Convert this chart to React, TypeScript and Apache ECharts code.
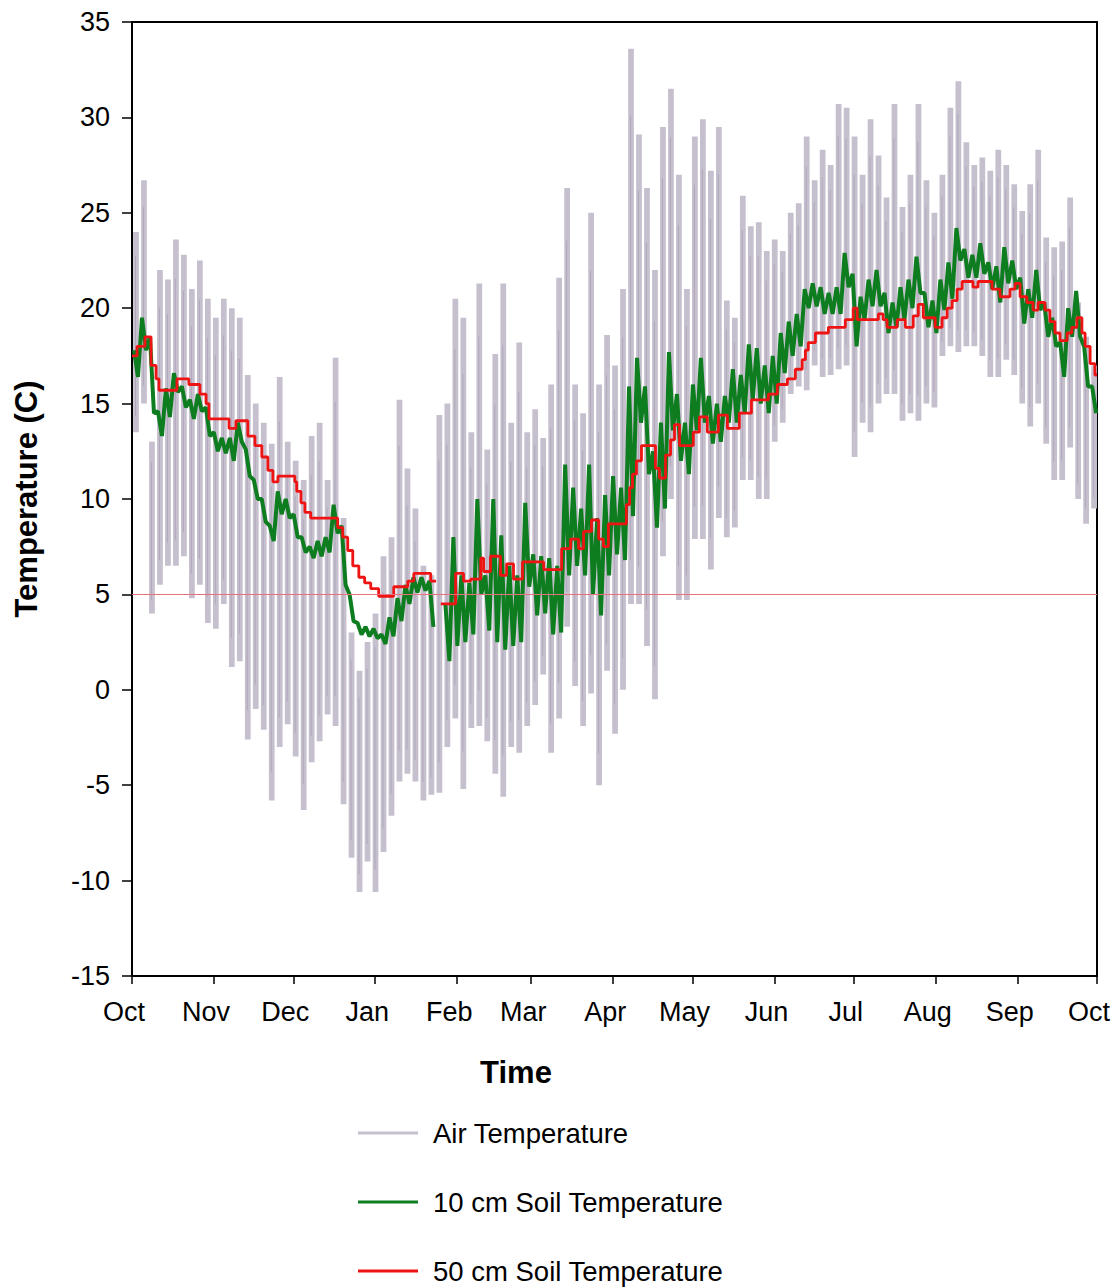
import React, { useEffect, useRef } from "react";
import * as echarts from "echarts";

// ---------- data ----------
const MONTHS = ["Jan", "Feb", "Mar", "Apr", "May", "Jun", "Jul", "Aug", "Sep", "Oct", "Nov", "Dec"];
const SERIES_NAMES = ["Air Temperature", "10 cm Soil Temperature", "50 cm Soil Temperature"];
const Y_MIN = -15;
const Y_MAX = 35;
const Y_STEP = 5;
const THRESHOLD = 5;

// Air temperature: highest / lowest reading in each ~3-day bin starting Oct 1
const AIR_HIGH = [
  24, 26.7, 13, 22, 21.5, 23.6, 22.8, 21, 22.5, 20.5,
  19.5, 20.5, 20, 19.5, 16.5, 15, 14, 12.9, 16.4, 13,
  12, 11, 13.3, 14, 11, 17.4, 9, 3, 1, 2.5,
  4, 7, 8, 15.2, 11.6, 9.5, 6.5, 6, 14.4, 15,
  20.5, 19.5, 13.5, 21.3, 12.6, 17.6, 21.3, 14, 18.2, 13.5,
  14.7, 13.2, 16, 21.6, 26.3, 16, 14.5, 25, 16, 18.6,
  17, 21, 33.6, 29.1, 26.3, 22, 29.5, 31.5, 27, 21,
  29, 29.9, 27.2, 29.5, 20.4, 19.5, 25.9, 24.3, 24.5, 23,
  23.6, 23, 25, 25.5, 29, 26.7, 28.3, 27.5, 30.7, 30.5,
  29, 27, 29.9, 28, 25.8, 30.7, 25.3, 27, 30.7, 26.7,
  25, 27, 30.5, 31.9, 28.7, 27.5, 27.9, 27.2, 28.3, 27.5,
  26.5, 25.1, 26.5, 28.3, 23.7, 23.2, 23.5, 25.8, 20.3, 18.5,
  17,
];
const AIR_LOW = [
  13.5, 15, 4, 5.5, 6.5, 6.5, 7, 4.8, 5.5, 3.5,
  3.2, 4.5, 1.2, 1.5, -2.6, -1, -2.1, -5.8, -3, -1.8,
  -3.5, -6.3, -3.8, -2.7, -1.3, -1.9, -6, -8.8, -10.6, -9,
  -10.6, -8.5, -6.6, -4.8, -4.4, -4.8, -5.8, -5.5, -5.4, -3,
  -1.5, -5.2, -2, -1.9, -2.7, -4.4, -5.6, -3, -3.3, -1.9,
  -0.8, 0.8, -3.3, -1.5, 3.3, 0.2, -1.9, -0.2, -5, 1,
  -2.3, 0, 4.5, 4.5, 2.3, -0.5, 7, 10, 4.7, 4.7,
  7.9, 7.9, 6.3, 9, 8, 8.5, 11, 11, 10, 10,
  13, 14, 15.5, 15.9, 15.7, 17, 16.4, 16.5, 16.8, 17,
  12.2, 14, 13.5, 15, 15.5, 15.5, 14.1, 14.5, 14.1, 15,
  14.8, 17.5, 18, 17.7, 18, 18, 17.5, 16.4, 16.4, 17.3,
  16.5, 15, 13.8, 15, 12.9, 11, 11, 12.7, 10, 8.7,
  9.5,
];

// 10 cm soil temperature: high / low in the same bins (null = no record)
const SOIL10_HIGH = [
  17.8, 19.5, 18.5, 14.6, 15.8, 16.6, 15.9, 15.2, 15.5, 14.8,
  13.5, 13.2, 13.2, 14.0, 12.6, 11.0, 10.0, 8.6, 10.4, 10.0,
  9.2, 8.0, 7.5, 7.8, 8.0, 9.7, 8.6, 5.0, 3.5, 3.3,
  3.2, 2.9, 3.8, 4.8, 5.5, 5.9, 5.9, 5.7, null, 4.5,
  8.0, 6.0, 5.6, 10.0, 6.0, 10.0, 8.1, 6.5, 6.0, 9.8,
  7.1, 7.0, 6.9, 6.5, 11.8, 10.6, 9.5, 11.8, 9.0, 10.2,
  11.2, 10.6, 15.9, 17.4, 15.9, 12.5, 14.0, 17.7, 15.5, 14.0,
  16.0, 17.4, 15.4, 15.0, 15.4, 16.8, 16.5, 18.1, 17.9, 17.0,
  17.5, 18.7, 19.3, 19.7, 21.0, 21.3, 21.1, 20.8, 21.1, 22.9,
  21.8, 20.6, 21.5, 22.0, 20.8, 20.3, 21.1, 21.5, 22.7, 20.8,
  20.4, 21.5, 22.4, 24.2, 23.1, 22.8, 23.4, 22.4, 22.2, 23.2,
  22.5, 21.6, 21.0, 22.0, 20.3, 19.5, 18.2, 20.0, 20.9, 18.0,
  15.9,
];
const SOIL10_LOW = [
  16.4, 17.8, 14.5, 13.3, 14.3, 15.6, 14.8, 14.2, 14.6, 13.3,
  12.5, 12.4, 12.0, 13.0, 11.2, 10.0, 8.8, 7.8, 9.2, 9.0,
  8.0, 7.2, 6.9, 7.0, 7.2, 8.2, 5.5, 3.6, 2.9, 2.8,
  2.7, 2.4, 2.8, 3.6, 4.5, 5.1, 5.2, 3.3, null, 1.5,
  2.3, 2.5, 2.9, 5.0, 3.1, 2.5, 2.1, 2.3, 2.5, 5.4,
  3.9, 4.0, 2.9, 3.0, 6.0, 6.5, 6.0, 5.0, 3.9, 6.0,
  7.1, 6.8, 9.1, 14.0, 11.3, 8.5, 9.5, 13.6, 12.0, 11.3,
  13.6, 14.0, 12.9, 13.0, 14.0, 14.0, 14.5, 15.2, 15.0, 14.5,
  15.0, 16.6, 17.5, 18.0, 20.0, 20.1, 19.7, 19.7, 19.7, 21.1,
  18.0, 19.4, 20.1, 20.1, 18.7, 19.0, 19.4, 20.0, 20.8, 19.0,
  18.7, 19.9, 20.5, 22.5, 21.6, 21.6, 21.8, 21.0, 20.3, 21.3,
  21.0, 19.2, 19.5, 19.9, 18.5, 18.0, 16.4, 18.5, 18.5, 15.9,
  14.5,
];

// 50 cm soil temperature: day (from Oct 1) at which each step starts, and its value
const SOIL50_DAY = [
  0, 1.9, 4.9, 7.2, 9.1, 10.2, 17.0, 21.5, 25.7, 28.0,
  29.1, 36.7, 39.3, 43.8, 46.5, 49.1, 51.4, 53.3, 55.2, 61.6,
  62.3, 63.9, 65.4, 67.6, 77.8, 79.7, 81.6, 83.5, 85.8, 88.0,
  90.3, 93.3, 99.0, 104.3, 106.6, 113.0, 114.1, 115.0, 116.8, 122.4,
  125.4, 128.1, 131.9, 133.0, 135.6, 139.4, 141.7, 144.3, 147.7, 155.7,
  162.5, 165.9, 168.9, 170.8, 173.8, 176.5, 178.3, 180.2, 187.0, 188.2,
  189.3, 190.8, 192.7, 198.0, 199.5, 201.8, 203.7, 205.2, 207.1, 212.3,
  214.6, 217.6, 221.8, 225.2, 229.7, 234.3, 240.7, 244.1, 247.9, 250.9,
  253.5, 254.7, 255.8, 258.5, 263.4, 269.8, 272.8, 274.3, 282.3, 284.1,
  285.6, 289.4, 292.5, 295.5, 297.4, 299.3, 303.8, 306.4, 308.3, 310.2,
  312.1, 314.0, 318.1, 320.0, 325.3, 328.3, 332.1, 334.0, 335.9, 338.5,
  340.8, 342.7, 345.3, 347.2, 349.1, 351.0, 353.7, 355.5, 357.4, 359.3,
  360.5, 362.4, 364.2, 365.0,
];
const SOIL50_VAL = [
  17.5, 18.0, 18.5, 17.0, 16.3, 15.7, 16.3, 16.0, 15.5, 15.0,
  14.2, 13.7, 14.1, 13.3, 12.8, 12.2, 11.5, 10.9, 11.2, 10.9,
  10.4, 9.8, 9.3, 9.0, 8.5, 8.0, 7.3, 6.5, 5.9, 5.6,
  5.3, 4.9, 5.4, 5.7, 6.1, 5.7, 5.7, null, 4.5, 6.1,
  5.7, 5.8, 6.9, 6.2, 7.0, 6.0, 6.6, 5.8, 6.7, 6.3,
  7.4, 7.9, 7.4, 8.3, 8.9, 7.9, 7.5, 8.7, 9.7, 10.6,
  11.3, 12.0, 12.8, 11.6, 11.1, 12.3, 13.1, 13.9, 12.8, 13.5,
  14.3, 13.5, 14.4, 13.7, 14.5, 15.2, 15.5, 16.0, 16.3, 16.8,
  17.3, 17.8, 18.2, 18.7, 19.0, 19.4, 20.0, 19.4, 19.7, 19.4,
  19.0, 19.4, 19.0, 19.6, 20.2, 19.5, 19.0, 19.5, 20.0, 20.4,
  21.0, 21.4, 21.1, 21.4, 21.0, 20.6, 21.0, 21.3, 20.6, 20.3,
  19.9, 20.3, 19.9, 19.3, 18.7, 18.3, 18.7, 19.0, 19.5, 18.7,
  18.0, 17.1, 16.5, 16.5,
];

// ---------- helpers ----------
const DAY_MS = 86400000;
const START = new Date(2001, 9, 1).getTime();
const END = new Date(2002, 9, 1).getTime();
const BIN_DAYS = 3.02;
const t = (d: number) => START + d * DAY_MS;

function zigzag(high: (number | null)[], low: (number | null)[]) {
  const out: any[] = [];
  high.forEach((h, i) => {
    const l = low[i];
    out.push([t((i + 0.25) * BIN_DAYS), h == null ? "-" : h]);
    out.push([t((i + 0.75) * BIN_DAYS), l == null ? "-" : l]);
  });
  return out;
}

const FONT = "'Liberation Sans', Arial, Helvetica, sans-serif";
const AIR_COLOR = "#c6bfce";
const AIR_STROKE = "#b1a9bb";
const SOIL10_COLOR = "#0e7d20";
const SOIL50_COLOR = "#ee1414";

export default function App() {
  const ref = useRef<HTMLDivElement>(null);

  useEffect(() => {
    if (!ref.current) return;
    const chart = echarts.init(ref.current, null, { renderer: "svg" });

    // one vertical range mark per bin: [bin centre time, low, high]
    const airRanges = AIR_HIGH.map((h, i) => [t((i + 0.5) * BIN_DAYS), AIR_LOW[i], h]);
    const soil10Data = zigzag(SOIL10_HIGH, SOIL10_LOW);
    const soil50Data = SOIL50_DAY.map((d, i) => [t(d), SOIL50_VAL[i] == null ? "-" : SOIL50_VAL[i]]);

    const option: any = {
      animation: false,
      backgroundColor: "#ffffff",
      textStyle: { fontFamily: FONT },
      grid: {
        left: 132,
        top: 22,
        width: 965,
        height: 954,
        show: true,
        borderColor: "#000",
        borderWidth: 2,
        backgroundColor: "transparent",
        containLabel: false,
        outerBoundsMode: "none",
      },
      legend: {
        orient: "vertical",
        left: 358,
        top: 1118,
        padding: 0,
        itemWidth: 60,
        itemHeight: 3,
        itemGap: 39,
        icon: "rect",
        data: SERIES_NAMES,
        textStyle: {
          fontFamily: FONT,
          fontSize: 27.5,
          color: "#000",
          lineHeight: 30,
          padding: [0, 0, 0, 10],
        },
      },
      xAxis: {
        type: "time",
        min: START,
        max: END,
        minInterval: 30 * DAY_MS,
        maxInterval: 31 * DAY_MS,
        splitNumber: 12,
        axisLine: { show: true, onZero: false, lineStyle: { color: "#000", width: 2 } },
        axisTick: { show: true, length: 8, lineStyle: { color: "#000", width: 1.5 } },
        minorTick: { show: false },
        splitLine: { show: false },
        axisLabel: {
          show: true,
          showMinLabel: true,
          showMaxLabel: true,
          hideOverlap: false,
          margin: 22,
          color: "#000",
          formatter: (v: number) => "{m|" + MONTHS[new Date(v).getMonth()] + "}",
          rich: {
            m: {
              fontFamily: FONT,
              fontSize: 27,
              color: "#000",
              padding: [0, 16, 0, 0],
            },
          },
        },
      },
      yAxis: {
        type: "value",
        min: Y_MIN,
        max: Y_MAX,
        interval: Y_STEP,
        name: "Temperature (C)",
        nameLocation: "middle",
        nameGap: 90,
        nameTextStyle: { fontFamily: FONT, fontSize: 31, fontWeight: "bold", color: "#000" },
        axisLine: { show: true, lineStyle: { color: "#000", width: 2 } },
        axisTick: { show: true, length: 10, lineStyle: { color: "#000", width: 1.5 } },
        splitLine: { show: false },
        axisLabel: { margin: 22, fontFamily: FONT, fontSize: 27, color: "#000" },
      },
      graphic: [
        {
          type: "text",
          x: 516,
          y: 1072,
          style: {
            text: "Time",
            font: `bold 31px ${FONT}`,
            fill: "#000",
            align: "center",
            verticalAlign: "middle",
          },
        },
      ],
      series: [
        {
          name: SERIES_NAMES[0],
          type: "custom",
          data: airRanges,
          encode: { x: 0, y: [1, 2] },
          itemStyle: { color: AIR_COLOR },
          z: 1,
          renderItem: (params: any, api: any) => {
            const x = api.value(0);
            const top = api.coord([x, api.value(2)]);
            const bottom = api.coord([x, api.value(1)]);
            const binW = api.size([BIN_DAYS * DAY_MS, 0])[0];
            const w = binW * 0.72;
            const h = bottom[1] - top[1];
            return {
              type: "group",
              children: [
                {
                  type: "rect",
                  shape: { x: top[0] - w / 2, y: top[1], width: w, height: h },
                  style: { fill: AIR_COLOR },
                },
                {
                  type: "line",
                  shape: { x1: top[0] - 0.5, y1: top[1] + h * 0.12, x2: top[0] - 0.5, y2: bottom[1] - h * 0.08 },
                  style: { stroke: AIR_STROKE, lineWidth: 1 },
                },
              ],
            };
          },
        },
        {
          name: SERIES_NAMES[1],
          type: "line",
          data: soil10Data,
          showSymbol: false,
          symbol: "none",
          connectNulls: false,
          itemStyle: { color: SOIL10_COLOR },
          lineStyle: { color: SOIL10_COLOR, width: 4 },
          z: 2,
        },
        {
          name: SERIES_NAMES[2],
          type: "line",
          step: "end",
          data: soil50Data,
          showSymbol: false,
          symbol: "none",
          connectNulls: false,
          itemStyle: { color: SOIL50_COLOR },
          lineStyle: { color: SOIL50_COLOR, width: 2.8 },
          z: 3,
          markLine: {
            silent: true,
            symbol: ["none", "none"],
            label: { show: false },
            lineStyle: { color: "#e8727c", width: 1, type: "solid" },
            data: [{ yAxis: THRESHOLD }],
          },
        },
      ],
    };

    chart.setOption(option);
    return () => chart.dispose();
  }, []);

  return (
    <div
      ref={ref}
      style={{ position: "fixed", left: 0, top: 0, width: 1112, height: 1288, background: "#fff" }}
    />
  );
}
